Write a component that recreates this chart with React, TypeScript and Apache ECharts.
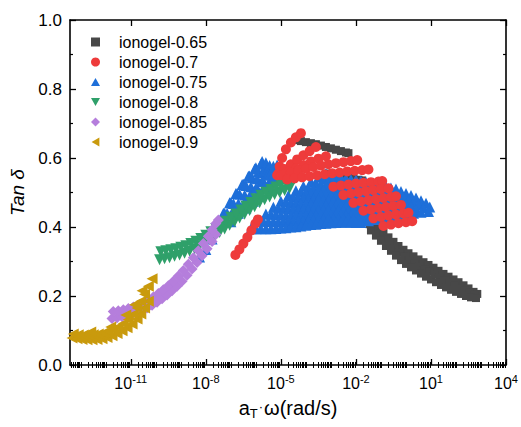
import React, { useEffect, useRef } from "react";
import * as echarts from "echarts";

// x values are log10(aT·ω / rad s^-1), y values are tan δ
const FONT = "'Liberation Sans', Arial, Helvetica, sans-serif";

const seriesNames = ["ionogel-0.65", "ionogel-0.7", "ionogel-0.75", "ionogel-0.8", "ionogel-0.85", "ionogel-0.9"];
const seriesColors = ["#484848", "#EE3B3B", "#1E6FD9", "#2FA06A", "#B57EDC", "#C99A0D"];

const xMajorTicks = [-11, -8, -5, -2, 1, 4];
const yTicks = [0, 0.2, 0.4, 0.6, 0.8, 1.0];

const gray065 = [
  [-4.4, 0.652], [-4.2, 0.649], [-4.0, 0.646], [-3.8, 0.643], [-3.6, 0.64], [-3.4, 0.636], [-3.2, 0.632], [-3.0, 0.628], [-2.8, 0.624], [-2.6, 0.62], [-2.4, 0.616], [-2.3, 0.614],
  [-3.1, 0.555], [-2.9, 0.552], [-2.7, 0.549], [-2.5, 0.546], [-2.3, 0.543], [-2.1, 0.54], [-1.9, 0.537], [-1.75, 0.535],
  [-1.5, 0.425], [-1.3, 0.412], [-1.1, 0.398], [-0.9, 0.384], [-0.7, 0.37], [-0.5, 0.357], [-0.3, 0.345], [-0.1, 0.334], [0.1, 0.324], [0.3, 0.315], [0.5, 0.306], [0.7, 0.298], [0.9, 0.29], [1.1, 0.282], [1.3, 0.273], [1.5, 0.264], [1.7, 0.256], [1.9, 0.248], [2.1, 0.24], [2.3, 0.231], [2.5, 0.222], [2.7, 0.212], [2.85, 0.206],
  [-1.45, 0.408], [-1.25, 0.394], [-1.05, 0.38], [-0.85, 0.365], [-0.65, 0.35], [-0.45, 0.337], [-0.25, 0.325], [-0.05, 0.314], [0.15, 0.304], [0.35, 0.295], [0.55, 0.286], [0.75, 0.278], [0.95, 0.27], [1.15, 0.262], [1.35, 0.254], [1.55, 0.245], [1.75, 0.238], [1.95, 0.23], [2.15, 0.223], [2.35, 0.216], [2.55, 0.209], [2.75, 0.203],
  [-1.4, 0.39], [-1.2, 0.375], [-1.0, 0.36], [-0.8, 0.345], [-0.6, 0.331], [-0.4, 0.317], [-0.2, 0.304], [0.0, 0.293], [0.2, 0.283], [0.4, 0.274], [0.6, 0.265], [0.8, 0.256], [1.0, 0.248], [1.2, 0.24], [1.4, 0.232], [1.6, 0.225], [1.8, 0.218], [2.0, 0.212], [2.2, 0.206], [2.4, 0.2], [2.6, 0.196], [2.8, 0.194],
];

const red07 = [
  [-6.82, 0.319], [-6.66, 0.335], [-6.5, 0.352], [-6.34, 0.37], [-6.18, 0.39], [-6.02, 0.41], [-5.92, 0.422],
  [-5.15, 0.55], [-5.05, 0.575], [-4.95, 0.6], [-4.8, 0.625], [-4.6, 0.645], [-4.4, 0.66], [-4.2, 0.672],
  [-5.1, 0.555], [-4.85, 0.568], [-4.6, 0.582], [-4.35, 0.596], [-4.1, 0.608], [-3.85, 0.62], [-3.6, 0.632],
  [-5.0, 0.55], [-4.7, 0.56], [-4.4, 0.57], [-4.1, 0.58], [-3.8, 0.59], [-3.5, 0.598], [-3.2, 0.605],
  [-4.9, 0.552], [-4.6, 0.558], [-4.3, 0.564], [-4.0, 0.569], [-3.7, 0.574], [-3.4, 0.578], [-3.1, 0.582], [-2.8, 0.585], [-2.5, 0.588], [-2.2, 0.591], [-1.95, 0.594],
  [-4.75, 0.538], [-4.45, 0.541], [-4.15, 0.544], [-3.85, 0.547], [-3.55, 0.55], [-3.25, 0.553], [-2.95, 0.556], [-2.65, 0.558], [-2.35, 0.561], [-2.05, 0.563], [-1.75, 0.565], [-1.5, 0.567],
  [-2.9, 0.517], [-2.6, 0.52], [-2.3, 0.523], [-2.0, 0.526], [-1.7, 0.528], [-1.4, 0.53], [-1.1, 0.532], [-0.95, 0.533],
  [-2.5, 0.493], [-2.2, 0.497], [-1.9, 0.501], [-1.6, 0.504], [-1.3, 0.507], [-1.0, 0.51], [-0.7, 0.512],
  [-2.1, 0.47], [-1.8, 0.474], [-1.5, 0.478], [-1.2, 0.481], [-0.9, 0.484], [-0.6, 0.487], [-0.4, 0.489],
  [-1.7, 0.447], [-1.4, 0.451], [-1.1, 0.455], [-0.8, 0.458], [-0.5, 0.461], [-0.2, 0.464],
  [-1.3, 0.425], [-1.0, 0.429], [-0.7, 0.433], [-0.4, 0.436], [-0.1, 0.439], [0.1, 0.441],
  [-0.9, 0.403], [-0.6, 0.407], [-0.3, 0.411], [0.0, 0.414], [0.25, 0.417],
];

const blue075 = [
  [-8.25, 0.313], [-8.0, 0.335], [-7.75, 0.365], [-7.5, 0.405], [-7.25, 0.44], [-7.0, 0.47], [-6.75, 0.497], [-6.5, 0.524], [-6.25, 0.548], [-6.0, 0.572], [-5.75, 0.59],
  [-7.55, 0.405], [-7.3, 0.44], [-7.05, 0.47], [-6.8, 0.497], [-6.55, 0.523], [-6.3, 0.547], [-6.05, 0.568], [-5.8, 0.582], [-5.6, 0.586],
  [-7.4, 0.41], [-7.15, 0.44], [-6.9, 0.468], [-6.65, 0.495], [-6.4, 0.52], [-6.15, 0.543], [-5.9, 0.56], [-5.65, 0.572], [-5.45, 0.578],
  [-7.2, 0.415], [-6.95, 0.442], [-6.7, 0.468], [-6.45, 0.493], [-6.2, 0.517], [-5.95, 0.54], [-5.7, 0.558], [-5.5, 0.57], [-5.3, 0.576],
  [-7.0, 0.415], [-6.75, 0.44], [-6.5, 0.465], [-6.25, 0.49], [-6.0, 0.513], [-5.75, 0.535], [-5.5, 0.555], [-5.3, 0.57], [-5.15, 0.58],
  [-6.7, 0.44], [-6.45, 0.465], [-6.2, 0.49], [-5.95, 0.512], [-5.7, 0.532], [-5.45, 0.55], [-5.2, 0.562], [-5.0, 0.568],
  [-6.4, 0.455], [-6.15, 0.478], [-5.9, 0.5], [-5.65, 0.52], [-5.4, 0.54], [-5.15, 0.555], [-4.9, 0.565], [-4.7, 0.57],
  [-6.1, 0.475], [-5.85, 0.497], [-5.6, 0.517], [-5.35, 0.535], [-5.1, 0.548], [-4.85, 0.558], [-4.6, 0.563],
  [-5.8, 0.49], [-5.55, 0.51], [-5.3, 0.528], [-5.05, 0.543], [-4.8, 0.553], [-4.55, 0.56], [-4.3, 0.565],
  [-6.2, 0.395], [-5.9, 0.417], [-5.6, 0.438], [-5.3, 0.457], [-5.0, 0.475], [-4.7, 0.491], [-4.4, 0.505], [-4.1, 0.518], [-3.8, 0.531], [-3.5, 0.544], [-3.2, 0.555],
  [-6.0, 0.395], [-5.7, 0.417], [-5.4, 0.437], [-5.1, 0.455], [-4.8, 0.473], [-4.5, 0.488], [-4.2, 0.502], [-3.9, 0.514], [-3.6, 0.527], [-3.3, 0.539], [-3.0, 0.55],
  [-5.8, 0.395], [-5.5, 0.416], [-5.2, 0.436], [-4.9, 0.454], [-4.6, 0.47], [-4.3, 0.485], [-4.0, 0.499], [-3.7, 0.511], [-3.4, 0.523], [-3.1, 0.535], [-2.8, 0.545],
  [-5.6, 0.395], [-5.3, 0.416], [-5.0, 0.435], [-4.7, 0.453], [-4.4, 0.469], [-4.1, 0.484], [-3.8, 0.497], [-3.5, 0.509], [-3.2, 0.521], [-2.9, 0.533], [-2.6, 0.543],
  [-5.4, 0.395], [-5.1, 0.415], [-4.8, 0.434], [-4.5, 0.452], [-4.2, 0.468], [-3.9, 0.482], [-3.6, 0.495], [-3.3, 0.507], [-3.0, 0.518], [-2.7, 0.53], [-2.4, 0.54],
  [-5.2, 0.396], [-4.9, 0.416], [-4.6, 0.434], [-4.3, 0.451], [-4.0, 0.467], [-3.7, 0.481], [-3.4, 0.494], [-3.1, 0.505], [-2.8, 0.517], [-2.5, 0.528], [-2.2, 0.538],
  [-5.0, 0.397], [-4.7, 0.417], [-4.4, 0.435], [-4.1, 0.452], [-3.8, 0.467], [-3.5, 0.481], [-3.2, 0.494], [-2.9, 0.505], [-2.6, 0.516], [-2.3, 0.527], [-2.0, 0.537],
  [-4.8, 0.398], [-4.5, 0.417], [-4.2, 0.434], [-3.9, 0.451], [-3.6, 0.466], [-3.3, 0.479], [-3.0, 0.491], [-2.7, 0.502], [-2.4, 0.513], [-2.1, 0.524], [-1.8, 0.533],
  [-4.6, 0.4], [-4.3, 0.418], [-4.0, 0.435], [-3.7, 0.451], [-3.4, 0.465], [-3.1, 0.478], [-2.8, 0.49], [-2.5, 0.5], [-2.2, 0.511], [-1.9, 0.521], [-1.6, 0.53],
  [-4.4, 0.401], [-4.1, 0.419], [-3.8, 0.435], [-3.5, 0.45], [-3.2, 0.464], [-2.9, 0.476], [-2.6, 0.487], [-2.3, 0.497], [-2.0, 0.507], [-1.7, 0.517], [-1.4, 0.526],
  [-4.2, 0.403], [-3.9, 0.42], [-3.6, 0.435], [-3.3, 0.45], [-3.0, 0.463], [-2.7, 0.475], [-2.4, 0.486], [-2.1, 0.495], [-1.8, 0.505], [-1.5, 0.515], [-1.2, 0.523],
  [-4.0, 0.405], [-3.7, 0.421], [-3.4, 0.436], [-3.1, 0.45], [-2.8, 0.463], [-2.5, 0.474], [-2.2, 0.484], [-1.9, 0.494], [-1.6, 0.503], [-1.3, 0.512], [-1.0, 0.52],
  [-3.8, 0.407], [-3.5, 0.422], [-3.2, 0.437], [-2.9, 0.45], [-2.6, 0.462], [-2.3, 0.473], [-2.0, 0.483], [-1.7, 0.492], [-1.4, 0.501], [-1.1, 0.509], [-0.8, 0.517],
  [-3.6, 0.408], [-3.3, 0.423], [-3.0, 0.436], [-2.7, 0.449], [-2.4, 0.461], [-2.1, 0.471], [-1.8, 0.48], [-1.5, 0.489], [-1.2, 0.497], [-0.9, 0.506], [-0.6, 0.513],
  [-3.4, 0.41], [-3.1, 0.424], [-2.8, 0.437], [-2.5, 0.449], [-2.2, 0.46], [-1.9, 0.47], [-1.6, 0.479], [-1.3, 0.487], [-1.0, 0.495], [-0.7, 0.503], [-0.4, 0.51],
  [-3.2, 0.411], [-2.9, 0.424], [-2.6, 0.436], [-2.3, 0.447], [-2.0, 0.457], [-1.7, 0.466], [-1.4, 0.474], [-1.1, 0.482], [-0.8, 0.489], [-0.5, 0.497], [-0.2, 0.503],
  [-3.0, 0.412], [-2.7, 0.424], [-2.4, 0.435], [-2.1, 0.445], [-1.8, 0.455], [-1.5, 0.463], [-1.2, 0.471], [-0.9, 0.477], [-0.6, 0.484], [-0.3, 0.491], [0.0, 0.497],
  [-2.8, 0.413], [-2.5, 0.424], [-2.2, 0.434], [-1.9, 0.443], [-1.6, 0.452], [-1.3, 0.46], [-1.0, 0.467], [-0.7, 0.473], [-0.4, 0.479], [-0.1, 0.486], [0.2, 0.491],
  [-2.6, 0.414], [-2.3, 0.424], [-2.0, 0.433], [-1.7, 0.441], [-1.4, 0.449], [-1.1, 0.456], [-0.8, 0.462], [-0.5, 0.468], [-0.2, 0.474], [0.1, 0.479], [0.4, 0.484],
  [-2.4, 0.414], [-2.1, 0.423], [-1.8, 0.431], [-1.5, 0.438], [-1.2, 0.445], [-0.9, 0.451], [-0.6, 0.457], [-0.3, 0.462], [0.0, 0.467], [0.3, 0.472], [0.6, 0.476],
  [-2.2, 0.414], [-1.9, 0.422], [-1.6, 0.429], [-1.3, 0.435], [-1.0, 0.442], [-0.7, 0.447], [-0.4, 0.452], [-0.1, 0.456], [0.2, 0.461], [0.5, 0.465], [0.8, 0.469],
  [-2.0, 0.413], [-1.7, 0.419], [-1.4, 0.425], [-1.1, 0.431], [-0.8, 0.436], [-0.5, 0.44], [-0.2, 0.444], [0.1, 0.448], [0.4, 0.451], [0.7, 0.455], [0.95, 0.458],
  [-1.8, 0.413], [-1.5, 0.418], [-1.2, 0.422], [-0.9, 0.426], [-0.6, 0.43], [-0.3, 0.434], [0.0, 0.437], [0.3, 0.44], [0.6, 0.443], [0.9, 0.445],
];

const green08 = [
  [-9.85, 0.305], [-9.65, 0.308], [-9.45, 0.311], [-9.25, 0.315], [-9.05, 0.319], [-8.85, 0.324], [-8.65, 0.33], [-8.45, 0.337], [-8.25, 0.345], [-8.05, 0.354], [-7.85, 0.364], [-7.65, 0.374], [-7.45, 0.384], [-7.25, 0.394], [-7.05, 0.405], [-6.85, 0.415], [-6.65, 0.426], [-6.45, 0.437], [-6.25, 0.448], [-6.05, 0.459], [-5.85, 0.47], [-5.65, 0.479], [-5.45, 0.487], [-5.25, 0.494], [-5.05, 0.5], [-4.85, 0.506], [-4.65, 0.512],
  [-9.8, 0.328], [-9.6, 0.331], [-9.4, 0.334], [-9.2, 0.337], [-9.0, 0.341], [-8.8, 0.346], [-8.6, 0.352], [-8.4, 0.359], [-8.2, 0.367], [-8.0, 0.376], [-7.8, 0.386], [-7.6, 0.396], [-7.4, 0.406], [-7.2, 0.417], [-7.0, 0.428], [-6.8, 0.438], [-6.6, 0.449], [-6.4, 0.46], [-6.2, 0.471], [-6.0, 0.482], [-5.8, 0.492], [-5.6, 0.501], [-5.4, 0.509], [-5.2, 0.516], [-5.0, 0.522], [-4.8, 0.528], [-4.6, 0.535], [-4.45, 0.54],
];

const purple085 = [
  [-11.75, 0.135], [-11.55, 0.137], [-11.35, 0.14], [-11.15, 0.143], [-10.95, 0.147], [-10.75, 0.152], [-10.55, 0.158], [-10.35, 0.165], [-10.15, 0.173], [-9.95, 0.182], [-9.75, 0.192], [-9.55, 0.203], [-9.35, 0.215], [-9.15, 0.228], [-8.95, 0.243], [-8.75, 0.26], [-8.55, 0.278], [-8.35, 0.297], [-8.15, 0.317], [-7.95, 0.337], [-7.75, 0.358], [-7.6, 0.378],
  [-11.7, 0.155], [-11.5, 0.157], [-11.3, 0.16], [-11.1, 0.164], [-10.9, 0.168], [-10.7, 0.173], [-10.5, 0.18], [-10.3, 0.188], [-10.1, 0.197], [-9.9, 0.207], [-9.7, 0.218], [-9.5, 0.23], [-9.3, 0.243], [-9.1, 0.258], [-8.9, 0.274], [-8.7, 0.292], [-8.5, 0.311], [-8.3, 0.331], [-8.1, 0.352], [-7.9, 0.373], [-7.75, 0.392], [-7.6, 0.41], [-7.5, 0.42],
];

const gold09 = [
  [-13.35, 0.078], [-13.15, 0.076], [-12.95, 0.074], [-12.75, 0.073], [-12.55, 0.073], [-12.35, 0.074], [-12.15, 0.076], [-11.95, 0.08], [-11.75, 0.085], [-11.55, 0.091], [-11.35, 0.099], [-11.15, 0.108], [-10.95, 0.119], [-10.75, 0.133], [-10.6, 0.148], [-10.45, 0.165], [-10.3, 0.185],
  [-13.3, 0.09], [-13.1, 0.088], [-12.9, 0.087], [-12.7, 0.087], [-12.5, 0.088], [-12.3, 0.09], [-12.1, 0.093], [-11.9, 0.097], [-11.7, 0.103], [-11.5, 0.11], [-11.3, 0.12], [-11.1, 0.132], [-10.9, 0.147], [-10.75, 0.165], [-10.6, 0.185], [-10.45, 0.205], [-10.3, 0.228], [-10.15, 0.25],
  [-12.6, 0.096], [-11.8, 0.11], [-11.2, 0.145], [-10.85, 0.175], [-10.55, 0.215],
];

const seriesData = [gray065, red07, blue075, green08, purple085, gold09];
const seriesSymbols = ["rect", "circle", "triangle", "triangle", "diamond", "triangle"];
const seriesRotate = [0, 0, 0, 180, 0, 90];
const seriesSizes = [8, 10, 11, 11, 11, 11];
const seriesZ = [2, 7, 3, 4, 5, 6];
const legendIcons = [
  "rect",
  "circle",
  "path://M5,0L10,8.66L0,8.66Z",
  "path://M0,0L10,0L5,8.66Z",
  "diamond",
  "path://M8.66,0L8.66,10L0,5Z",
];

const X_MIN = -13.43;
const X_MAX = 4;

function minorXTicks(): number[] {
  const out: number[] = [];
  for (let d = -14; d <= 4; d++) {
    for (let k = 1; k <= 9; k++) {
      const v = d + Math.log10(k);
      if (v > X_MIN && v < X_MAX && !(k === 1 && xMajorTicks.includes(d))) out.push(+v.toFixed(4));
    }
  }
  return out;
}

export default function App() {
  const ref = useRef<HTMLDivElement>(null);
  useEffect(() => {
    if (!ref.current) return;
    const chart = echarts.init(ref.current, null, { renderer: "svg" });
    const minor = minorXTicks();
    const axisLine = { show: true, onZero: false, lineStyle: { color: "#000", width: 1.6 } };
    const baseX = { type: "value", min: X_MIN, max: X_MAX, splitLine: { show: false } };
    chart.setOption({
      animation: false,
      backgroundColor: "#fff",
      textStyle: { fontFamily: FONT },
      grid: { left: 70, right: 13, top: 20, bottom: 62 },
      legend: {
        orient: "vertical",
        left: 86,
        top: 29,
        itemWidth: 9,
        itemHeight: 9,
        itemGap: 4,
        data: seriesNames.map((name, i) => ({ name, icon: legendIcons[i] })),
        textStyle: { fontSize: 16, color: "#000", fontFamily: FONT, lineHeight: 16, padding: [0, 0, 0, 14] },
      },
      xAxis: [
        {
          ...baseX,
          position: "bottom",
          axisLine,
          axisTick: { show: true, inside: true, length: 6, customValues: xMajorTicks, lineStyle: { color: "#000", width: 1.3 } },
          axisLabel: {
            show: true,
            customValues: xMajorTicks,
            margin: 8,
            color: "#000",
            formatter: (v: number) => `{b|10}{s|${v}}`,
            rich: {
              b: { fontSize: 16, lineHeight: 20, fontFamily: FONT, color: "#000" },
              s: { fontSize: 11, lineHeight: 11, verticalAlign: "top", fontFamily: FONT, color: "#000" },
            },
          },
          name: "a{sub|T}{dot|·}ω(rad/s)",
          nameLocation: "middle",
          nameGap: 23,
          nameTextStyle: {
            fontSize: 20,
            color: "#000",
            fontFamily: FONT,
            lineHeight: 24,
            rich: {
              sub: { fontSize: 13, lineHeight: 13, verticalAlign: "bottom", fontFamily: FONT, color: "#000" },
              dot: { fontSize: 13, fontFamily: FONT, color: "#000", padding: [0, 1, 2, 1] },
            },
          },
        },
        {
          ...baseX,
          position: "bottom",
          axisLine: { show: false },
          axisTick: { show: true, inside: true, length: 3, customValues: minor, lineStyle: { color: "#000", width: 1 } },
          axisLabel: { show: false },
        },
        {
          ...baseX,
          position: "top",
          axisLine,
          axisTick: { show: true, inside: true, length: 6, customValues: xMajorTicks, lineStyle: { color: "#000", width: 1.3 } },
          axisLabel: { show: false },
        },
        {
          ...baseX,
          position: "top",
          axisLine: { show: false },
          axisTick: { show: true, inside: true, length: 3, customValues: minor, lineStyle: { color: "#000", width: 1 } },
          axisLabel: { show: false },
        },
      ],
      yAxis: [
        {
          type: "value",
          min: 0,
          max: 1,
          interval: 0.2,
          position: "left",
          axisLine,
          splitLine: { show: false },
          axisTick: { show: true, inside: true, length: 6, lineStyle: { color: "#000", width: 1.3 } },
          minorTick: { show: true, splitNumber: 2, length: 3, lineStyle: { color: "#000", width: 1.2 } },
          axisLabel: {
            show: true,
            margin: 8,
            color: "#000",
            fontSize: 17,
            fontFamily: FONT,
            customValues: yTicks,
            formatter: (v: number) => v.toFixed(1),
          },
          name: "Tan δ",
          nameLocation: "middle",
          nameGap: 33,
          nameTextStyle: { fontSize: 19, fontStyle: "italic", color: "#000", fontFamily: FONT },
        },
        {
          type: "value",
          min: 0,
          max: 1,
          interval: 0.2,
          position: "right",
          axisLine,
          splitLine: { show: false },
          axisTick: { show: true, inside: true, length: 6, lineStyle: { color: "#000", width: 1.3 } },
          minorTick: { show: true, splitNumber: 2, length: 3, lineStyle: { color: "#000", width: 1.2 } },
          axisLabel: { show: false },
        },
      ],
      series: seriesNames.map((name, i) => ({
        name,
        type: "scatter",
        xAxisIndex: 0,
        yAxisIndex: 0,
        data: seriesData[i],
        symbol: seriesSymbols[i],
        symbolRotate: seriesRotate[i],
        symbolSize: seriesSizes[i],
        z: seriesZ[i],
        itemStyle: { color: seriesColors[i], opacity: 1 },
        emphasis: { disabled: true },
      })),
    });
    return () => chart.dispose();
  }, []);
  return (
    <div
      ref={ref}
      style={{ position: "fixed", left: 0, top: 0, width: 521, height: 427, background: "#fff" }}
    />
  );
}
